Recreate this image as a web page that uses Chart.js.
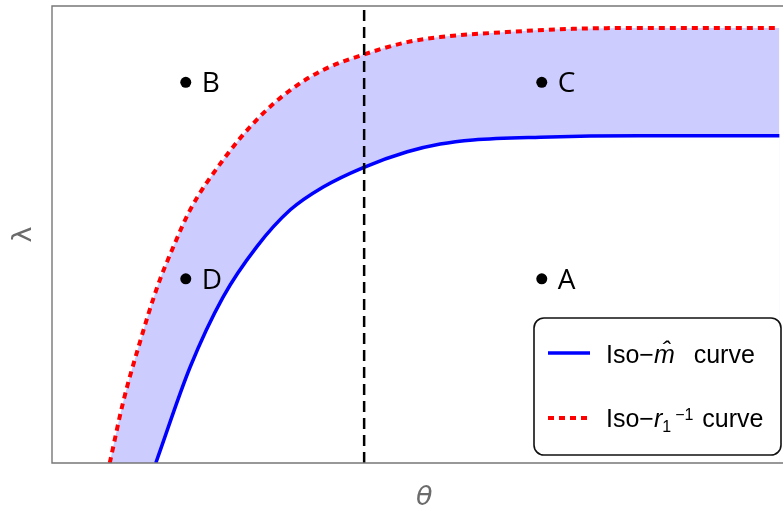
<!DOCTYPE html>
<html>
<head>
<meta charset="utf-8">
<script src="https://cdn.jsdelivr.net/npm/chart.js@4"></script>
<style>
  html, body { margin: 0; padding: 0; background: #fff; }
  #wrap { width: 783px; height: 514px; }
</style>
</head>
<body>
<div id="wrap"><canvas id="myChart"></canvas></div>
<script>
// data (theta on x, lambda on y, both 0..10)
const isoMX = [1.42, 1.89, 2.34, 2.80, 3.26, 3.71, 4.25, 4.86, 5.31, 5.76, 6.68, 8.04, 9.95]
const isoMY = [0, 2.10, 3.63, 4.73, 5.54, 6.04, 6.46, 6.81, 6.98, 7.07, 7.13, 7.16, 7.16]

const isoRX = [0.79, 0.97, 1.20, 1.44, 1.66, 1.89, 2.34, 2.80, 3.26, 3.71, 4.25, 4.86, 5.31, 6.22, 7.13, 8.04, 9.95]
const isoRY = [0, 1.31, 2.63, 3.85, 4.73, 5.54, 6.63, 7.51, 8.16, 8.60, 8.93, 9.21, 9.32, 9.43, 9.50, 9.52, 9.52]

const pointNames = ['A', 'B', 'C', 'D']
const pointX = [6.70, 1.83, 6.70, 1.83]
const pointY = [4.03, 8.33, 8.33, 4.03]

const thetaLine = 4.27

const legendLabels = ['Iso−m̂ curve', 'Iso−r₁⁻¹ curve']

const toXY = (xs, ys) => xs.map((x, i) => ({ x: x, y: ys[i] }))

const ctx = document.querySelector('#myChart').getContext('2d')

// frame on left, top and bottom (right side is cut off)
const framePlugin = {
    id: 'frame',
    afterDatasetsDraw: (chart) => {
        const { ctx, chartArea } = chart
        ctx.save()
        ctx.strokeStyle = '#777'
        ctx.lineWidth = 1.4
        ctx.beginPath()
        ctx.moveTo(chart.width, chartArea.top)
        ctx.lineTo(chartArea.left, chartArea.top)
        ctx.lineTo(chartArea.left, chartArea.bottom)
        ctx.lineTo(chart.width, chartArea.bottom)
        ctx.stroke()
        ctx.restore()
    }
}

const pointLabelPlugin = {
    id: 'pointLabels',
    afterDatasetsDraw: (chart) => {
        const { ctx } = chart
        const meta = chart.getDatasetMeta(0)
        ctx.save()
        ctx.fillStyle = '#000'
        ctx.font = '28px "Open Sans"'
        ctx.textBaseline = 'alphabetic'
        meta.data.forEach((pt, i) => {
            ctx.fillText(pointNames[i], pt.x + 16, pt.y + 10)
        })
        ctx.restore()
    }
}

// legend with italic / sub / superscript pieces
const drawPieces = (ctx, pieces, x, y) => {
    pieces.forEach(p => {
        ctx.font = p.font
        ctx.fillText(p.text, x, y + (p.dy || 0))
        x += ctx.measureText(p.text).width + (p.gap || 0)
    })
}

const legendPlugin = {
    id: 'boxLegend',
    afterDraw: (chart) => {
        const { ctx } = chart
        const blue = chart.data.datasets[2]
        const red = chart.data.datasets[3]
        ctx.save()
        ctx.beginPath()
        ctx.roundRect(534, 318, 247, 137, 10)
        ctx.fillStyle = '#fff'
        ctx.fill()
        ctx.lineWidth = 1.6
        ctx.strokeStyle = '#111'
        ctx.stroke()

        ctx.lineWidth = blue.borderWidth
        ctx.strokeStyle = blue.borderColor
        ctx.beginPath()
        ctx.moveTo(548, 353)
        ctx.lineTo(590, 353)
        ctx.stroke()

        ctx.lineWidth = red.borderWidth
        ctx.strokeStyle = red.borderColor
        ctx.setLineDash(red.borderDash)
        ctx.beginPath()
        ctx.moveTo(548, 418)
        ctx.lineTo(590, 418)
        ctx.stroke()
        ctx.setLineDash([])

        const f = '25px "Liberation Sans"'
        const fi = 'italic 25px "Liberation Sans"'
        const fs = '16px "Liberation Sans"'
        ctx.fillStyle = '#000'
        ctx.textBaseline = 'alphabetic'
        drawPieces(ctx, [
            { text: 'Iso−', font: f },
            { text: 'm\u0302', font: fi, gap: 5 },
            { text: '  curve', font: f }
        ], 606, 363)
        drawPieces(ctx, [
            { text: 'Iso−', font: f },
            { text: 'r', font: fi },
            { text: '1', font: fs, dy: 5, gap: 4 },
            { text: '−1', font: fs, dy: -7, gap: 2 },
            { text: ' curve', font: f }
        ], 606, 427)
        ctx.restore()
    }
}

const data = {
    datasets: [
        {
            label: 'points',
            data: toXY(pointX, pointY),
            showLine: false,
            pointRadius: 5.5,
            pointBackgroundColor: '#000',
            pointBorderWidth: 0,
            borderWidth: 0
        },
        {
            label: 'theta',
            data: [{ x: thetaLine, y: 0 }, { x: thetaLine, y: 10 }],
            borderColor: '#000',
            borderWidth: 2.5,
            borderDash: [11, 6],
            pointRadius: 0,
            fill: false
        },
        {
            label: legendLabels[0],
            data: toXY(isoMX, isoMY),
            borderColor: '#0000ff',
            borderWidth: 3.5,
            pointRadius: 0,
            cubicInterpolationMode: 'monotone',
            fill: 'origin',
            backgroundColor: '#ffffff'   // clears the band below the blue curve
        },
        {
            label: legendLabels[1],
            data: toXY(isoRX, isoRY),
            borderColor: '#ff0000',
            borderWidth: 4,
            borderDash: [6, 5],
            pointRadius: 0,
            cubicInterpolationMode: 'monotone',
            fill: 'origin',
            backgroundColor: 'rgb(204, 204, 255)'
        }
    ]
}

const config = {
    type: 'line',
    data: data,
    plugins: [framePlugin, pointLabelPlugin, legendPlugin],
    options: {
        responsive: true,
        maintainAspectRatio: false,
        animation: false,
        layout: { autoPadding: false, padding: { top: 6, right: 0, left: 0, bottom: 0 } },
        scales: {
            x: {
                type: 'linear',
                min: 0,
                max: 10,
                ticks: { display: false },
                grid: { display: false },
                border: { display: false },
                title: {
                    display: true,
                    text: '\u2002θ',
                    color: '#6b6b6b',
                    font: { family: 'DejaVu Sans', size: 27, style: 'italic' },
                    padding: { top: 0, bottom: 0 }
                },
                afterFit: (scale) => { scale.height = 51 }
            },
            y: {
                min: 0,
                max: 10,
                ticks: { display: false },
                grid: { display: false },
                border: { display: false },
                title: {
                    display: true,
                    text: 'λ',
                    color: '#6b6b6b',
                    font: { family: 'DejaVu Sans', size: 27 },
                    padding: { top: 8, bottom: 0 }
                },
                afterFit: (scale) => { scale.width = 52 }
            }
        },
        plugins: {
            legend: { display: false },
            tooltip: { enabled: false }
        }
    }
}

const myChart = new Chart(ctx, config)
</script>
</body>
</html>
